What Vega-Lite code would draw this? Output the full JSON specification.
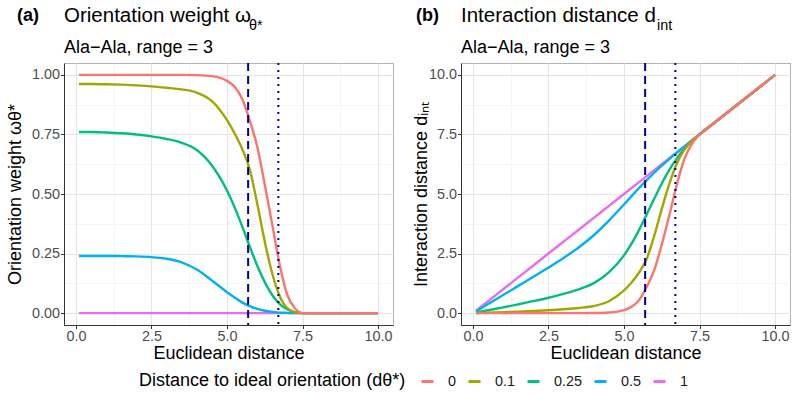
{
  "$schema": "https://vega.github.io/schema/vega-lite/v6.json",
  "padding": {"left": 5, "top": 5, "right": 0, "bottom": 0},
  "background": "white",
  "config": {
    "font": "Liberation Sans",
    "view": {"stroke": "#b3b3b3", "strokeWidth": 1},
    "axis": {"labelFontSize": 14.4, "labelColor": "#4d4d4d", "titleFontSize": 18, "titleFontWeight": "normal", "titleColor": "#000000", "domainColor": "#333333", "tickColor": "#333333", "tickSize": 3.5, "labelPadding": 1, "labelOverlap": false},
    "title": {"font": "Liberation Sans", "color": "#000000", "subtitleFont": "Liberation Sans", "subtitleColor": "#000000", "fontWeight": "normal"}
  },
  "datasets": {
    "curves": [
      {"x":0.1,"d":"1","w":0,"dint":0.1},{"x":0.5,"d":"1","w":0,"dint":0.5},{"x":1,"d":"1","w":0,"dint":1},{"x":1.5,"d":"1","w":0,"dint":1.5},{"x":2,"d":"1","w":0,"dint":2},{"x":2.5,"d":"1","w":0,"dint":2.5},{"x":3,"d":"1","w":0,"dint":3},{"x":3.5,"d":"1","w":0,"dint":3.5},{"x":4,"d":"1","w":0,"dint":4},{"x":4.5,"d":"1","w":0,"dint":4.5},{"x":5,"d":"1","w":0,"dint":5},{"x":5.25,"d":"1","w":0,"dint":5.25},{"x":5.5,"d":"1","w":0,"dint":5.5},{"x":5.75,"d":"1","w":0,"dint":5.75},{"x":6,"d":"1","w":0,"dint":6},{"x":6.25,"d":"1","w":0,"dint":6.25},{"x":6.5,"d":"1","w":0,"dint":6.5},{"x":6.75,"d":"1","w":0,"dint":6.75},{"x":7,"d":"1","w":0,"dint":7},{"x":7.25,"d":"1","w":0,"dint":7.25},{"x":7.5,"d":"1","w":0,"dint":7.5},{"x":8,"d":"1","w":0,"dint":8},{"x":9,"d":"1","w":0,"dint":9},{"x":10,"d":"1","w":0,"dint":10},
      {"x":0.1,"d":"0.5","w":0.24,"dint":0.076},{"x":0.5,"d":"0.5","w":0.24,"dint":0.38},{"x":1,"d":"0.5","w":0.24,"dint":0.76},{"x":1.5,"d":"0.5","w":0.239,"dint":1.142},{"x":2,"d":"0.5","w":0.238,"dint":1.524},{"x":2.5,"d":"0.5","w":0.235,"dint":1.913},{"x":3,"d":"0.5","w":0.228,"dint":2.316},{"x":3.5,"d":"0.5","w":0.213,"dint":2.755},{"x":4,"d":"0.5","w":0.183,"dint":3.268},{"x":4.5,"d":"0.5","w":0.137,"dint":3.884},{"x":5,"d":"0.5","w":0.088,"dint":4.56},{"x":5.25,"d":"0.5","w":0.065,"dint":4.909},{"x":5.5,"d":"0.5","w":0.045,"dint":5.253},{"x":5.75,"d":"0.5","w":0.029,"dint":5.583},{"x":6,"d":"0.5","w":0.018,"dint":5.892},{"x":6.25,"d":"0.5","w":0.01,"dint":6.188},{"x":6.5,"d":"0.5","w":0.005,"dint":6.468},{"x":6.75,"d":"0.5","w":0.002,"dint":6.737},{"x":7,"d":"0.5","w":0.001,"dint":6.993},{"x":7.25,"d":"0.5","w":0,"dint":7.25},{"x":7.5,"d":"0.5","w":0,"dint":7.5},{"x":8,"d":"0.5","w":0,"dint":8},{"x":9,"d":"0.5","w":0,"dint":9},{"x":10,"d":"0.5","w":0,"dint":10},
      {"x":0.1,"d":"0.25","w":0.76,"dint":0.024},{"x":0.5,"d":"0.25","w":0.76,"dint":0.12},{"x":1,"d":"0.25","w":0.758,"dint":0.242},{"x":1.5,"d":"0.25","w":0.755,"dint":0.368},{"x":2,"d":"0.25","w":0.75,"dint":0.5},{"x":2.5,"d":"0.25","w":0.742,"dint":0.645},{"x":3,"d":"0.25","w":0.731,"dint":0.807},{"x":3.5,"d":"0.25","w":0.715,"dint":0.998},{"x":4,"d":"0.25","w":0.685,"dint":1.26},{"x":4.5,"d":"0.25","w":0.62,"dint":1.71},{"x":5,"d":"0.25","w":0.515,"dint":2.425},{"x":5.25,"d":"0.25","w":0.445,"dint":2.914},{"x":5.5,"d":"0.25","w":0.365,"dint":3.493},{"x":5.75,"d":"0.25","w":0.28,"dint":4.14},{"x":6,"d":"0.25","w":0.2,"dint":4.8},{"x":6.25,"d":"0.25","w":0.13,"dint":5.438},{"x":6.5,"d":"0.25","w":0.075,"dint":6.013},{"x":6.75,"d":"0.25","w":0.038,"dint":6.494},{"x":7,"d":"0.25","w":0.015,"dint":6.895},{"x":7.25,"d":"0.25","w":0.004,"dint":7.221},{"x":7.5,"d":"0.25","w":0,"dint":7.5},{"x":8,"d":"0.25","w":0,"dint":8},{"x":9,"d":"0.25","w":0,"dint":9},{"x":10,"d":"0.25","w":0,"dint":10},
      {"x":0.1,"d":"0.1","w":0.962,"dint":0.004},{"x":0.5,"d":"0.1","w":0.962,"dint":0.019},{"x":1,"d":"0.1","w":0.961,"dint":0.039},{"x":1.5,"d":"0.1","w":0.959,"dint":0.062},{"x":2,"d":"0.1","w":0.956,"dint":0.088},{"x":2.5,"d":"0.1","w":0.952,"dint":0.12},{"x":3,"d":"0.1","w":0.946,"dint":0.162},{"x":3.5,"d":"0.1","w":0.939,"dint":0.214},{"x":4,"d":"0.1","w":0.926,"dint":0.296},{"x":4.5,"d":"0.1","w":0.89,"dint":0.495},{"x":5,"d":"0.1","w":0.81,"dint":0.95},{"x":5.25,"d":"0.1","w":0.755,"dint":1.286},{"x":5.5,"d":"0.1","w":0.69,"dint":1.705},{"x":5.75,"d":"0.1","w":0.605,"dint":2.271},{"x":6,"d":"0.1","w":0.46,"dint":3.24},{"x":6.25,"d":"0.1","w":0.3,"dint":4.375},{"x":6.5,"d":"0.1","w":0.165,"dint":5.428},{"x":6.75,"d":"0.1","w":0.07,"dint":6.278},{"x":7,"d":"0.1","w":0.02,"dint":6.86},{"x":7.25,"d":"0.1","w":0.004,"dint":7.221},{"x":7.5,"d":"0.1","w":0,"dint":7.5},{"x":8,"d":"0.1","w":0,"dint":8},{"x":9,"d":"0.1","w":0,"dint":9},{"x":10,"d":"0.1","w":0,"dint":10},
      {"x":0.1,"d":"0","w":1,"dint":0},{"x":0.5,"d":"0","w":1,"dint":0},{"x":1,"d":"0","w":1,"dint":0},{"x":1.5,"d":"0","w":1,"dint":0},{"x":2,"d":"0","w":1,"dint":0},{"x":2.5,"d":"0","w":1,"dint":0},{"x":3,"d":"0","w":1,"dint":0},{"x":3.5,"d":"0","w":1,"dint":0},{"x":4,"d":"0","w":0.999,"dint":0.004},{"x":4.5,"d":"0","w":0.995,"dint":0.023},{"x":5,"d":"0","w":0.975,"dint":0.125},{"x":5.25,"d":"0","w":0.95,"dint":0.263},{"x":5.5,"d":"0","w":0.9,"dint":0.55},{"x":5.75,"d":"0","w":0.81,"dint":1.093},{"x":6,"d":"0","w":0.7,"dint":1.8},{"x":6.25,"d":"0","w":0.54,"dint":2.875},{"x":6.5,"d":"0","w":0.37,"dint":4.095},{"x":6.75,"d":"0","w":0.2,"dint":5.4},{"x":7,"d":"0","w":0.075,"dint":6.475},{"x":7.25,"d":"0","w":0.02,"dint":7.105},{"x":7.5,"d":"0","w":0,"dint":7.5},{"x":8,"d":"0","w":0,"dint":8},{"x":9,"d":"0","w":0,"dint":9},{"x":10,"d":"0","w":0,"dint":10}
    ],
    "refs": [{"x": 5.7, "cutoff": "inner"}, {"x": 6.7, "cutoff": "outer"}]
  },
  "spacing": 17,
  "hconcat": [
    {
      "title": {"text": "(a)", "anchor": "start", "frame": "bounds", "fontSize": 18, "fontWeight": "bold", "offset": 0, "dx": 11, "dy": 20},
      "vconcat": [{
        "title": {"text": "θ*", "anchor": "start", "frame": "bounds", "fontSize": 14.4, "fontWeight": "normal", "offset": 0, "dx": 243, "dy": 28},
        "vconcat": [{
          "width": 329, "height": 262,
          "title": {"text": "Orientation weight ω", "subtitle": "Ala−Ala, range = 3", "anchor": "start", "frame": "group", "fontSize": 20.5, "fontWeight": "normal", "subtitleFontSize": 18, "subtitlePadding": 13, "offset": 5},
          "layer": [
            {
              "data": {"name": "curves"},
              "mark": {"type": "line", "strokeWidth": 2.4, "interpolate": "monotone"},
              "encoding": {
                "x": {"field": "x", "type": "quantitative", "scale": {"domain": [-0.395, 10.495], "nice": false, "zero": false},
                  "axis": {"title": "Euclidean distance", "titlePadding": 2, "values": [0,1.25,2.5,3.75,5,6.25,7.5,8.75,10],
                    "labelExpr": "abs(datum.value/2.5 - round(datum.value/2.5)) < 0.01 ? format(datum.value, '.1f') : ''",
                    "tickOpacity": {"condition": {"test": "abs(datum.value/2.5 - round(datum.value/2.5)) < 0.01", "value": 1}, "value": 0},
                    "gridColor": {"condition": {"test": "abs(datum.value/2.5 - round(datum.value/2.5)) < 0.01", "value": "#e5e5e5"}, "value": "#f0f0f0"},
                    "gridWidth": {"condition": {"test": "abs(datum.value/2.5 - round(datum.value/2.5)) < 0.01", "value": 1}, "value": 0.7}}},
                "y": {"field": "w", "type": "quantitative", "scale": {"domain": [-0.05, 1.05], "nice": false},
                  "axis": {"title": "Orientation weight ωθ*", "titlePadding": 7, "values": [0,0.125,0.25,0.375,0.5,0.625,0.75,0.875,1],
                    "labelExpr": "abs(datum.value*4 - round(datum.value*4)) < 0.01 ? format(datum.value, '.2f') : ''",
                    "tickOpacity": {"condition": {"test": "abs(datum.value*4 - round(datum.value*4)) < 0.01", "value": 1}, "value": 0},
                    "gridColor": {"condition": {"test": "abs(datum.value*4 - round(datum.value*4)) < 0.01", "value": "#e5e5e5"}, "value": "#f0f0f0"},
                    "gridWidth": {"condition": {"test": "abs(datum.value*4 - round(datum.value*4)) < 0.01", "value": 1}, "value": 0.7}}},
                "color": {"field": "d", "type": "nominal",
                  "scale": {"domain": ["0","0.1","0.25","0.5","1"], "range": ["#F8766D","#A3A500","#00BF7D","#00B0F6","#E76BF3"]},
                  "legend": {"orient": "none", "legendX": 75, "legendY": 311, "direction": "horizontal", "titleOrient": "left", "title": "Distance to ideal orientation (dθ*)", "titleLimit": 500, "titleFontSize": 18, "titleFontWeight": "normal", "titleColor": "#000000", "titlePadding": 14, "labelFontSize": 14.4, "labelColor": "#1a1a1a", "symbolType": "stroke", "symbolSize": 144, "symbolStrokeWidth": 3, "labelOffset": 13, "columnPadding": 5}}
              }
            },
            {
              "data": {"name": "refs"},
              "mark": {"type": "rule", "color": "#00008B", "strokeWidth": 2},
              "encoding": {
                "x": {"field": "x", "type": "quantitative"},
                "strokeDash": {"field": "cutoff", "type": "nominal", "scale": {"domain": ["inner","outer"], "range": [[8,5],[2,5]]}, "legend": null}
              }
            }
          ]
        }]
      }]
    },
    {
      "title": {"text": "(b)", "anchor": "start", "frame": "bounds", "fontSize": 18, "fontWeight": "bold", "offset": 0, "dx": 4, "dy": 20},
      "vconcat": [{
        "title": {"text": "int", "anchor": "start", "frame": "bounds", "fontSize": 14.4, "fontWeight": "normal", "offset": 0, "dx": 245, "dy": 28},
        "vconcat": [{
          "width": 329, "height": 262,
          "title": {"text": "Interaction distance d", "subtitle": "Ala−Ala, range = 3", "anchor": "start", "frame": "group", "fontSize": 20.5, "fontWeight": "normal", "subtitleFontSize": 18, "subtitlePadding": 13, "offset": 5},
          "layer": [
            {
              "data": {"name": "curves"},
              "mark": {"type": "line", "strokeWidth": 2.4, "interpolate": "monotone"},
              "encoding": {
                "x": {"field": "x", "type": "quantitative", "scale": {"domain": [-0.395, 10.495], "nice": false, "zero": false},
                  "axis": {"title": "Euclidean distance", "titlePadding": 2, "values": [0,1.25,2.5,3.75,5,6.25,7.5,8.75,10],
                    "labelExpr": "abs(datum.value/2.5 - round(datum.value/2.5)) < 0.01 ? format(datum.value, '.1f') : ''",
                    "tickOpacity": {"condition": {"test": "abs(datum.value/2.5 - round(datum.value/2.5)) < 0.01", "value": 1}, "value": 0},
                    "gridColor": {"condition": {"test": "abs(datum.value/2.5 - round(datum.value/2.5)) < 0.01", "value": "#e5e5e5"}, "value": "#f0f0f0"},
                    "gridWidth": {"condition": {"test": "abs(datum.value/2.5 - round(datum.value/2.5)) < 0.01", "value": 1}, "value": 0.7}}},
                "y": {"field": "dint", "type": "quantitative", "scale": {"domain": [-0.5, 10.5], "nice": false},
                  "axis": {"title": "Interaction distance dᵢₙₜ", "titlePadding": -2, "values": [0,1.25,2.5,3.75,5,6.25,7.5,8.75,10],
                    "labelExpr": "abs(datum.value/2.5 - round(datum.value/2.5)) < 0.01 ? format(datum.value, '.1f') : ''",
                    "tickOpacity": {"condition": {"test": "abs(datum.value/2.5 - round(datum.value/2.5)) < 0.01", "value": 1}, "value": 0},
                    "gridColor": {"condition": {"test": "abs(datum.value/2.5 - round(datum.value/2.5)) < 0.01", "value": "#e5e5e5"}, "value": "#f0f0f0"},
                    "gridWidth": {"condition": {"test": "abs(datum.value/2.5 - round(datum.value/2.5)) < 0.01", "value": 1}, "value": 0.7}}},
                "color": {"field": "d", "type": "nominal",
                  "scale": {"domain": ["0","0.1","0.25","0.5","1"], "range": ["#F8766D","#A3A500","#00BF7D","#00B0F6","#E76BF3"]},
                  "legend": {"orient": "none", "legendX": 75, "legendY": 311, "direction": "horizontal", "titleOrient": "left", "title": "Distance to ideal orientation (dθ*)", "titleLimit": 500, "titleFontSize": 18, "titleFontWeight": "normal", "titleColor": "#000000", "titlePadding": 14, "labelFontSize": 14.4, "labelColor": "#1a1a1a", "symbolType": "stroke", "symbolSize": 144, "symbolStrokeWidth": 3, "labelOffset": 13, "columnPadding": 5}}
              }
            },
            {
              "data": {"name": "refs"},
              "mark": {"type": "rule", "color": "#00008B", "strokeWidth": 2},
              "encoding": {
                "x": {"field": "x", "type": "quantitative"},
                "strokeDash": {"field": "cutoff", "type": "nominal", "scale": {"domain": ["inner","outer"], "range": [[8,5],[2,5]]}, "legend": null}
              }
            }
          ]
        }]
      }]
    }
  ]
}
